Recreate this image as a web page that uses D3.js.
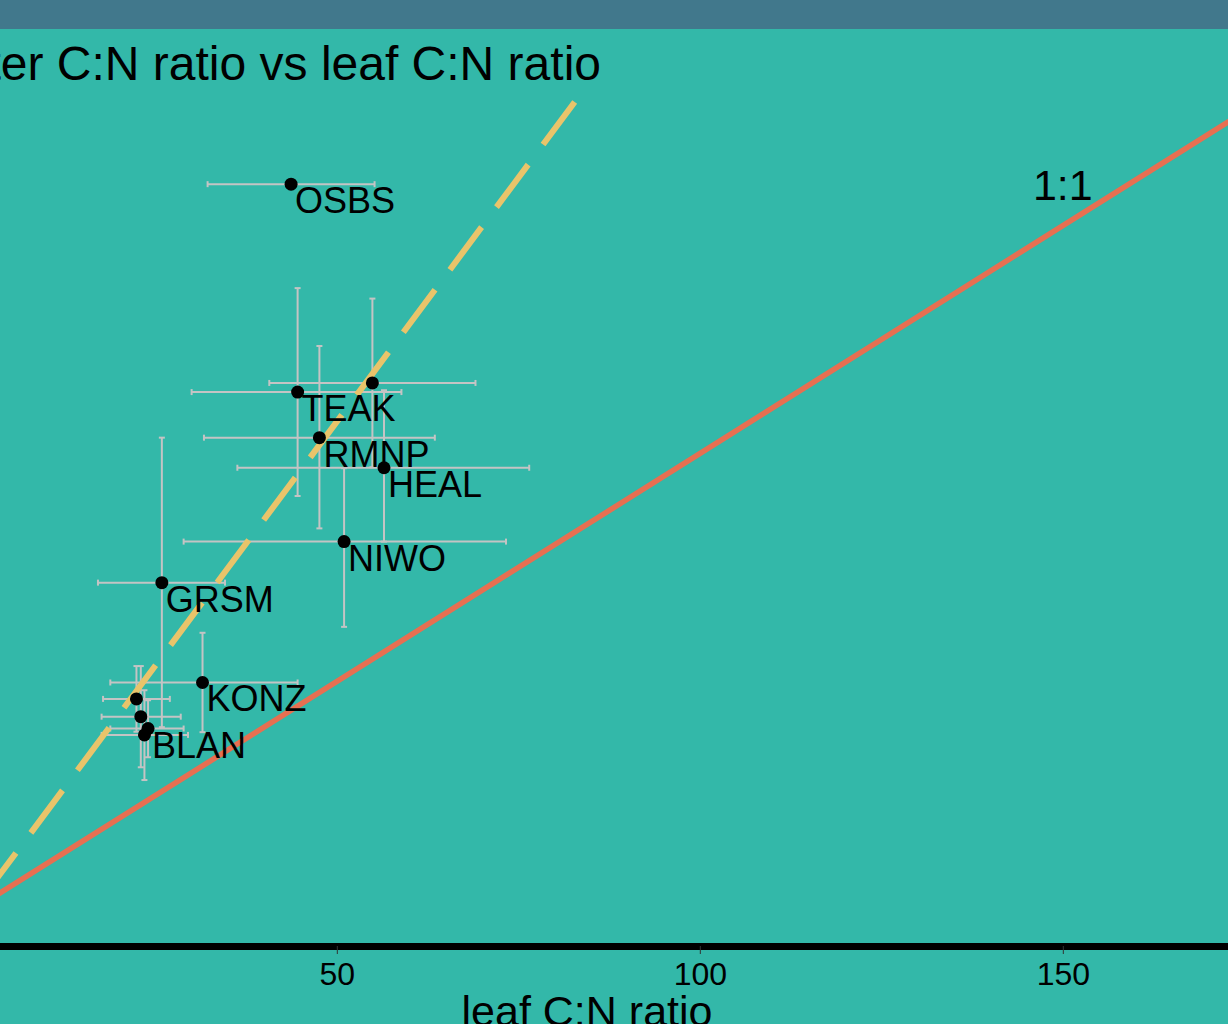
<!DOCTYPE html>
<html>
<head>
<meta charset="utf-8">
<script src="https://cdn.jsdelivr.net/npm/d3@7/dist/d3.min.js"></script>
<style>
  html, body { margin: 0; padding: 0; background: #33b8a9; overflow: hidden; }
  svg { display: block; font-family: "Liberation Sans", Arial, sans-serif; }
</style>
</head>
<body>
<svg id="chart" width="1228" height="1024"></svg>
<script>
// ---- data ----
const siteLabels = ["OSBS", "", "TEAK", "RMNP", "HEAL", "NIWO", "GRSM", "KONZ", "", "", "BLAN", ""];
const leafCN     = [43.7, 54.9, 44.6, 47.6, 56.5, 51.0, 25.9, 31.5, 22.4, 23.0, 24.0, 23.5];
const leafLow    = [32.2, 40.7, 30.0, 31.7, 36.3, 28.9, 17.1, 18.8, 17.8, 17.6, 18.8, 17.6];
const leafHigh   = [55.2, 69.1, 58.9, 63.5, 76.5, 73.3, 34.6, 44.6, 27.0, 28.5, 28.9, 29.5];
const litterCN   = [159.1, 115.5, 113.5, 103.5, 96.9, 80.7, 71.7, 49.8, 46.2, 42.3, 39.7, 38.3];
const litterLow  = [null, 97.0, 90.7, 83.6, 80.7, 62.0, 40.0, 38.9, 39.0, 31.2, 33.4, 28.4];
const litterHigh = [null, 134.0, 136.3, 123.6, 113.9, 96.8, 103.5, 60.7, 53.4, 53.4, 45.9, 48.1];
const xTicks = [50, 100, 150];
const xDomain = [-8.24, 177.16];
const yDomain = [-8, 178];
const fitSlope = 2.14, fitIntercept = 0;      // dashed fitted line
const oneToOneLabel = { x: 150, y: 159, text: "1:1" };
const titleText = "Litter C:N ratio vs leaf C:N ratio";
const xTitle = "leaf C:N ratio";

// ---- layout ----
const W = 1228, H = 1024;
const panel = { left: -86, right: 1260, top: 98, bottom: 946 };
const BG = "#33b8a9", BAR = "#41788c", RED = "#e76f51", YEL = "#e9c46a", EB = "#c4c4c4";

const svg = d3.select("#chart");
svg.append("rect").attr("width", W).attr("height", H).attr("fill", BG);
svg.append("rect").attr("width", W).attr("height", 29).attr("fill", BAR);

const x = d3.scaleLinear().domain(xDomain).range([panel.left, panel.right]);
const y = d3.scaleLinear().domain(yDomain).range([panel.bottom, panel.top]);

svg.append("clipPath").attr("id", "pclip").append("rect")
  .attr("x", panel.left).attr("y", panel.top)
  .attr("width", panel.right - panel.left).attr("height", panel.bottom - panel.top);

const data = leafCN.map((v, i) => ({
  label: siteLabels[i], x: v, xl: leafLow[i], xh: leafHigh[i],
  y: litterCN[i], yl: litterLow[i], yh: litterHigh[i]
}));

const g = svg.append("g").attr("clip-path", "url(#pclip)");
const CAP = 3;

// error bars
const eb = g.append("g").attr("stroke", EB).attr("stroke-width", 2).attr("fill", "none");
data.forEach(d => {
  eb.append("line").attr("x1", x(d.xl)).attr("x2", x(d.xh)).attr("y1", y(d.y)).attr("y2", y(d.y));
  eb.append("line").attr("x1", x(d.xl)).attr("x2", x(d.xl)).attr("y1", y(d.y) - CAP).attr("y2", y(d.y) + CAP);
  eb.append("line").attr("x1", x(d.xh)).attr("x2", x(d.xh)).attr("y1", y(d.y) - CAP).attr("y2", y(d.y) + CAP);
  if (d.yl != null) {
    eb.append("line").attr("x1", x(d.x)).attr("x2", x(d.x)).attr("y1", y(d.yl)).attr("y2", y(d.yh));
    eb.append("line").attr("x1", x(d.x) - CAP).attr("x2", x(d.x) + CAP).attr("y1", y(d.yl)).attr("y2", y(d.yl));
    eb.append("line").attr("x1", x(d.x) - CAP).attr("x2", x(d.x) + CAP).attr("y1", y(d.yh)).attr("y2", y(d.yh));
  }
});

// 1:1 line
g.append("line")
  .attr("x1", x(yDomain[0])).attr("y1", y(yDomain[0]))
  .attr("x2", x(xDomain[1])).attr("y2", y(xDomain[1]))
  .attr("stroke", RED).attr("stroke-width", 5.5);

// dashed fitted line, drawn from the top edge downward
const xTop = (yDomain[1] - fitIntercept) / fitSlope;
const xBot = xDomain[0];
g.append("line")
  .attr("x1", x(xTop)).attr("y1", y(yDomain[1]))
  .attr("x2", x(xBot)).attr("y2", y(fitIntercept + fitSlope * xBot))
  .attr("stroke", YEL).attr("stroke-width", 6)
  .attr("stroke-dasharray", "53,25").attr("stroke-dashoffset", -5);

// points
g.append("g").selectAll("circle").data(data).join("circle")
  .attr("cx", d => x(d.x)).attr("cy", d => y(d.y)).attr("r", 6.5).attr("fill", "#000");

// labels
svg.append("g").selectAll("text").data(data.filter(d => d.label)).join("text")
  .attr("x", d => x(d.x) + 4).attr("y", d => y(d.y) + 29)
  .attr("font-size", 36).attr("fill", "#000").text(d => d.label);

// 1:1 annotation
svg.append("text").attr("x", x(oneToOneLabel.x)).attr("y", y(oneToOneLabel.y))
  .attr("dy", "0.36em").attr("text-anchor", "middle").attr("font-size", 43)
  .attr("fill", "#000").text(oneToOneLabel.text);

// x axis
const ax = svg.append("g").attr("transform", `translate(0,${panel.bottom})`)
  .call(d3.axisBottom(x).tickValues(xTicks).tickSize(8).tickSizeOuter(0).tickPadding(8));
ax.select(".domain").attr("stroke", "#000").attr("stroke-width", 7);
ax.selectAll(".tick line").attr("stroke", "#333").attr("stroke-width", 1);
ax.selectAll(".tick text").attr("font-size", 32).attr("fill", "#000")
  .attr("font-family", "\"Liberation Sans\", Arial, sans-serif");
ax.raise();

// x title
svg.append("text").attr("x", (panel.left + panel.right) / 2).attr("y", 1026)
  .attr("text-anchor", "middle").attr("font-size", 43).attr("fill", "#000").text(xTitle);

// title (left part cut by the frame, as in the reference)
svg.append("text").attr("x", 601).attr("y", 80).attr("text-anchor", "end")
  .attr("font-size", 48).attr("fill", "#000").text(titleText);
</script>
</body>
</html>
